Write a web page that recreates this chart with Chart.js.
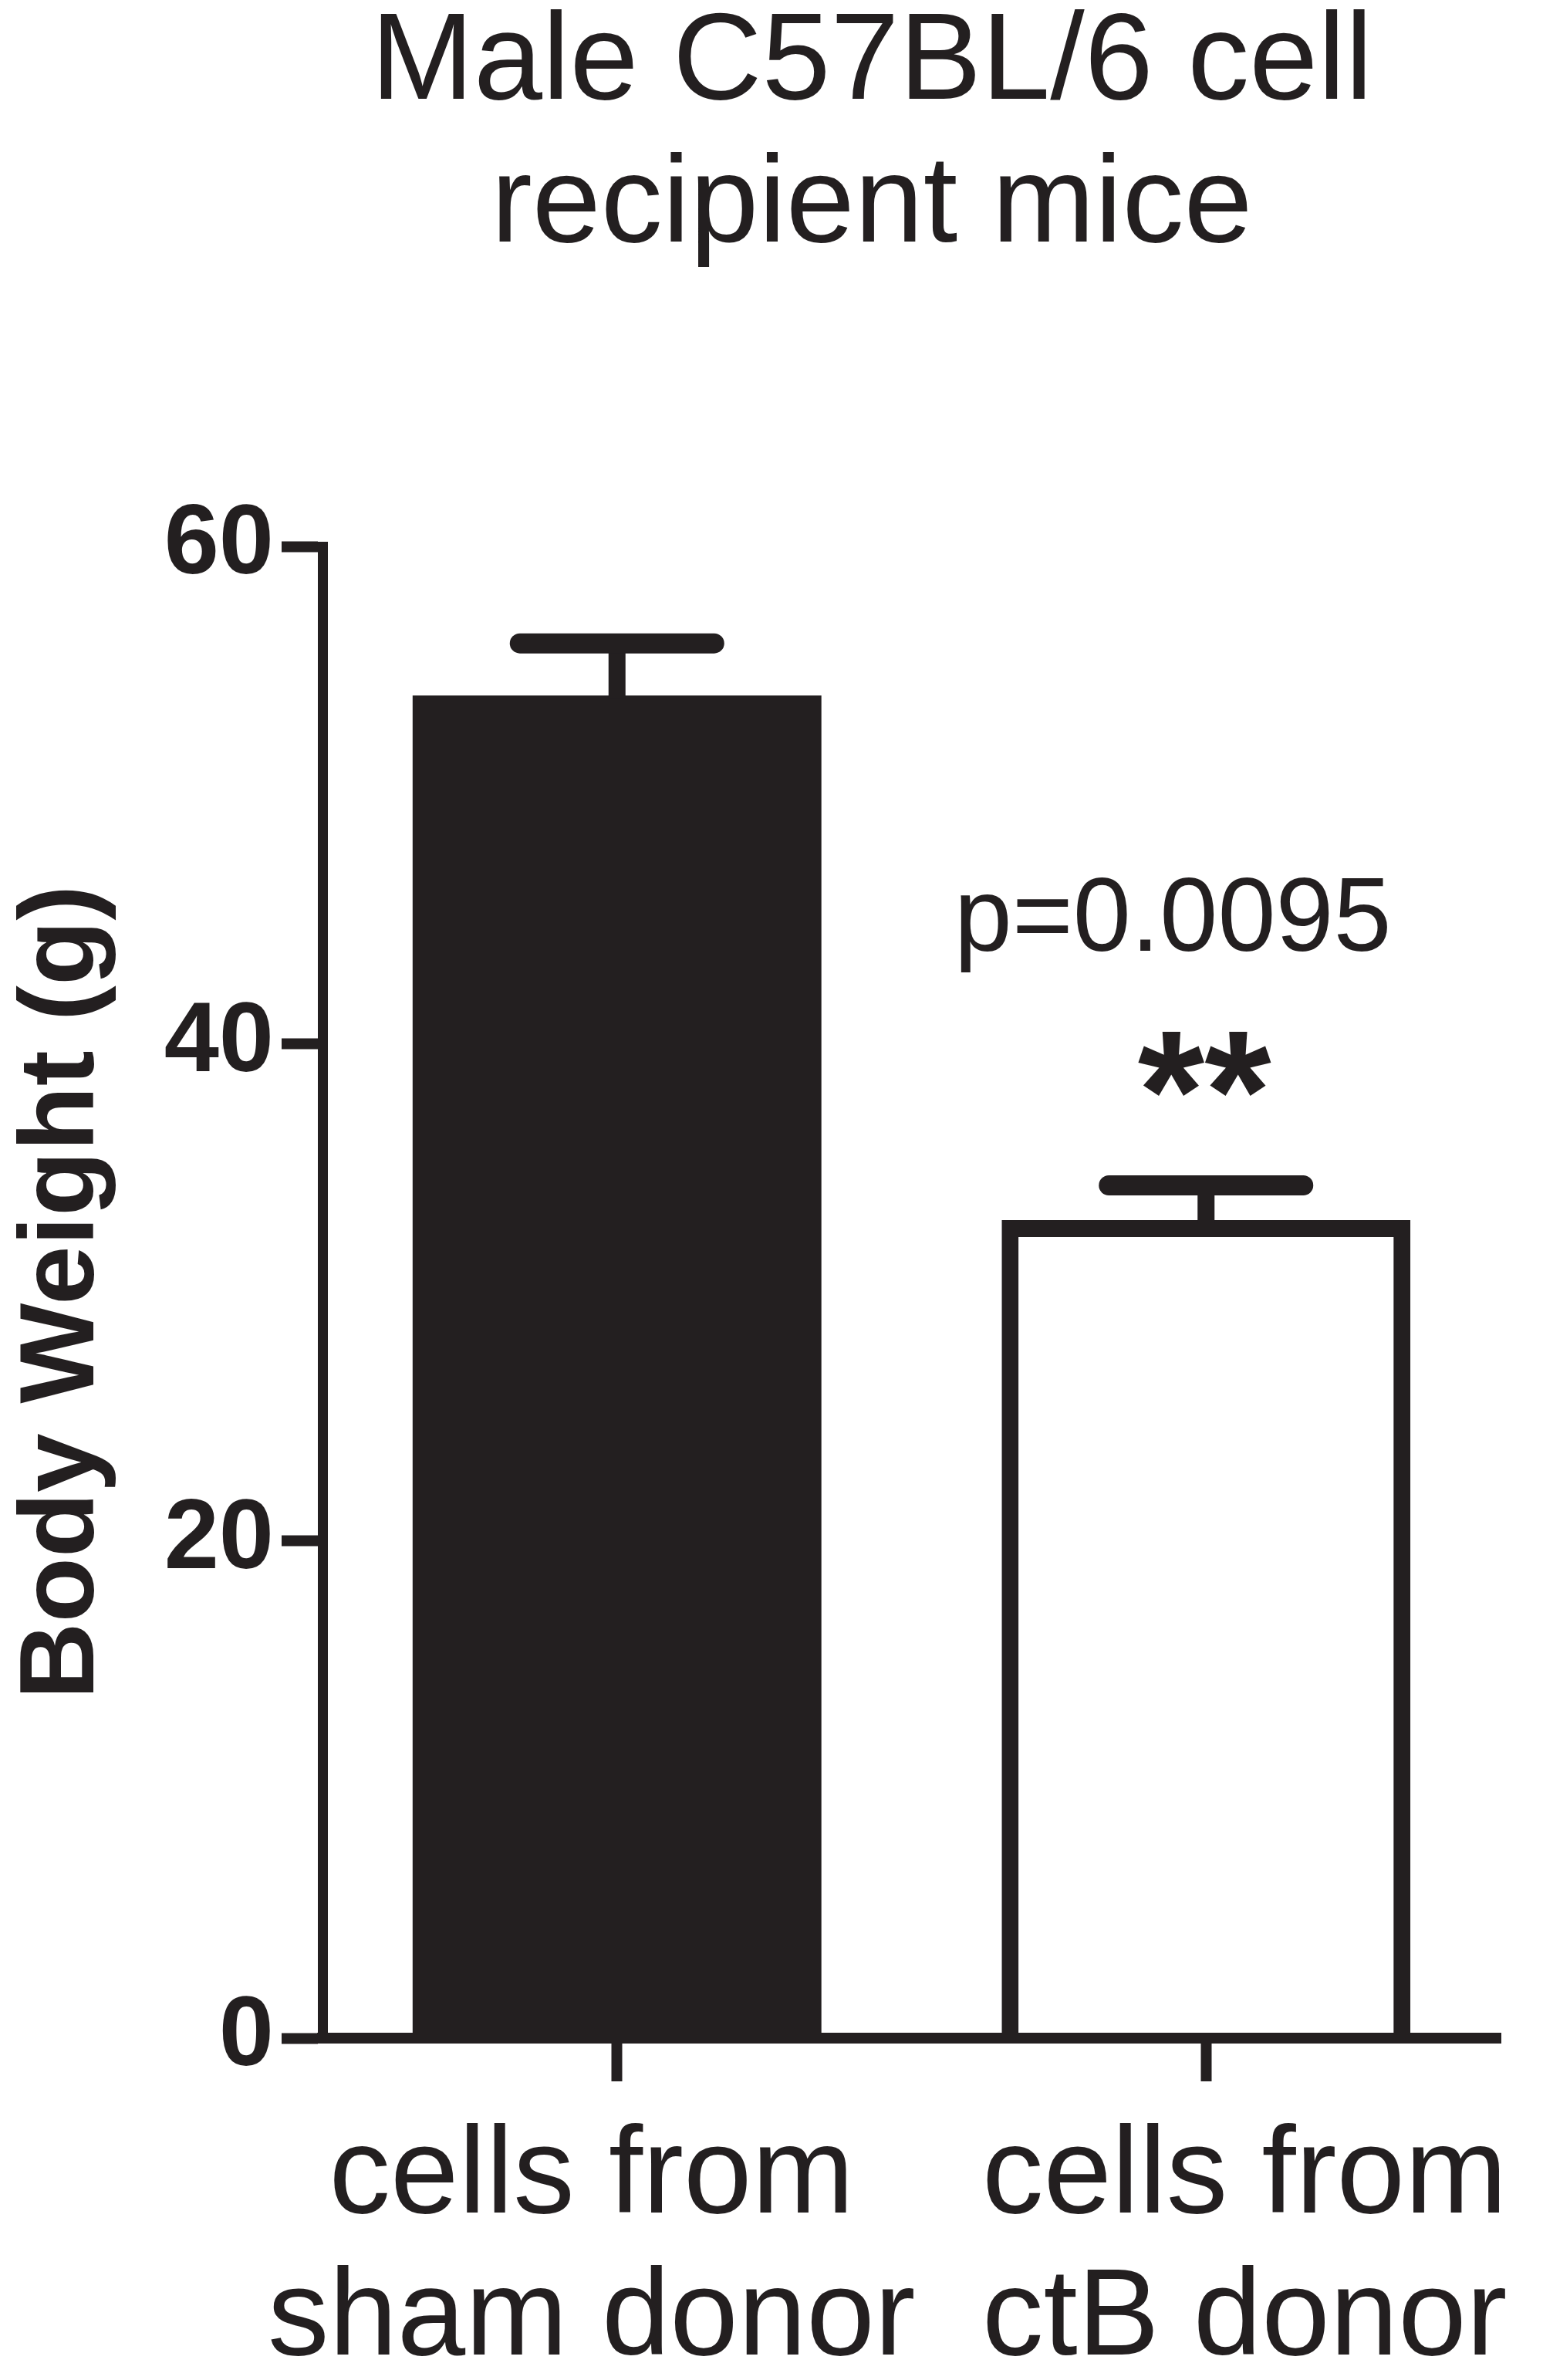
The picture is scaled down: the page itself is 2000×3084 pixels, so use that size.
<!DOCTYPE html>
<html>
<head>
<meta charset="utf-8">
<script src="https://cdn.jsdelivr.net/npm/chart.js@4/dist/chart.umd.min.js"></script>
<style>
  html, body { margin: 0; padding: 0; background: #fff; }
  canvas { display: block; }
</style>
</head>
<body>
<canvas id="BodyWeight" width="2000" height="3084"></canvas>
<script>
// data
var categories = [['cells from', 'sham donor'], ['cells from', 'ctB donor']];
var means = [54.0, 32.9];
var sem = [2.1, 1.4];
var yTicks = [0, 20, 40, 60];
var titleLines = ['Male C57BL/6 cell', 'recipient mice'];
var pText = 'p=0.0095';
var starText = '**';

var ink = '#231f20';
var face = '"Liberation Sans", Arial, Helvetica, sans-serif';

// error bars (mean + SEM only, like the original)
var errorBars = {
	id: 'errorBars',
	afterDatasetsDraw: function(chart){
		var ctx = chart.ctx;
		var y = chart.scales.y;
		var meta = chart.getDatasetMeta(0);
		ctx.save();
		ctx.strokeStyle = ink;
		for (var i = 0; i < means.length; i++) {
			var bx = meta.data[i].x;
			var yBase = y.getPixelForValue(means[i]);
			var yTop = y.getPixelForValue(means[i] + sem[i]);
			ctx.lineCap = 'butt';
			ctx.lineWidth = 22;
			ctx.beginPath();
			ctx.moveTo(bx, yBase + 4);
			ctx.lineTo(bx, yTop);
			ctx.stroke();
			ctx.lineCap = 'round';
			ctx.lineWidth = 26;
			ctx.beginPath();
			ctx.moveTo(bx - 126, yTop);
			ctx.lineTo(bx + 126, yTop);
			ctx.stroke();
		}
		ctx.restore();
	}
};

// title, category labels and significance text
var extraText = {
	id: 'extraText',
	afterDraw: function(chart){
		var ctx = chart.ctx;
		var meta = chart.getDatasetMeta(0);
		ctx.save();
		ctx.fillStyle = ink;
		ctx.textAlign = 'center';
		ctx.textBaseline = 'alphabetic';

		ctx.font = '160px ' + face;
		ctx.fillText(titleLines[0], 1130, 128);
		ctx.fillText(titleLines[1], 1130, 313);

		// category labels sit a bit apart from their ticks in the original
		var shift = [-33, 50];
		ctx.font = '159px ' + face;
		for (var i = 0; i < categories.length; i++) {
			var lx = meta.data[i].x + shift[i];
			ctx.fillText(categories[i][0], lx, 2867);
			ctx.fillText(categories[i][1], lx, 3051);
		}

		var x2 = meta.data[1].x;
		ctx.font = '135px ' + face;
		ctx.fillText(pText, x2 - 43, 1232);
		ctx.font = 'bold 222px ' + face;
		ctx.fillText(starText, x2 - 2, 1490);
		ctx.restore();
	}
};

new Chart(document.getElementById('BodyWeight'), {
	type: 'bar',
	data: {
		labels: categories,
		datasets: [{
			data: means,
			backgroundColor: [ink, '#ffffff'],
			borderColor: ink,
			borderWidth: [0, 22],
			borderSkipped: 'bottom',
			barPercentage: 0.694,
			categoryPercentage: 1
		}]
	},
	plugins: [errorBars, extraText],
	options: {
		responsive: false,
		devicePixelRatio: 1,
		animation: false,
		events: [],
		layout: { padding: { top: 708, left: 0, right: 55, bottom: 0 } },
		plugins: {
			legend: { display: false },
			title: { display: false },
			tooltip: { enabled: false }
		},
		scales: {
			x: {
				offset: true,
				grid: {
					offset: false,
					drawOnChartArea: false,
					drawTicks: true,
					tickLength: 56,
					tickWidth: 14,
					color: ink
				},
				border: { display: true, color: ink, width: 14, z: 1 },
				ticks: { display: false },
				afterFit: function(scale){ scale.height = 443; }
			},
			y: {
				min: 0,
				max: 60,
				afterBuildTicks: function(scale){
					scale.ticks = yTicks.map(function(v){ return { value: v }; });
				},
				grid: {
					drawOnChartArea: false,
					drawTicks: true,
					tickLength: 53,
					tickWidth: 14,
					color: ink
				},
				border: { display: true, color: ink, width: 13 },
				ticks: {
					color: ink,
					padding: 10,
					font: { family: face, size: 128, weight: 'bold' }
				},
				title: {
					display: true,
					text: 'Body Weight (g)',
					color: ink,
					padding: 0,
					font: { family: face, size: 138, weight: 'bold', lineHeight: 1.2 }
				},
				afterFit: function(scale){ scale.width = 418; }
			}
		}
	}
});
</script>
</body>
</html>
